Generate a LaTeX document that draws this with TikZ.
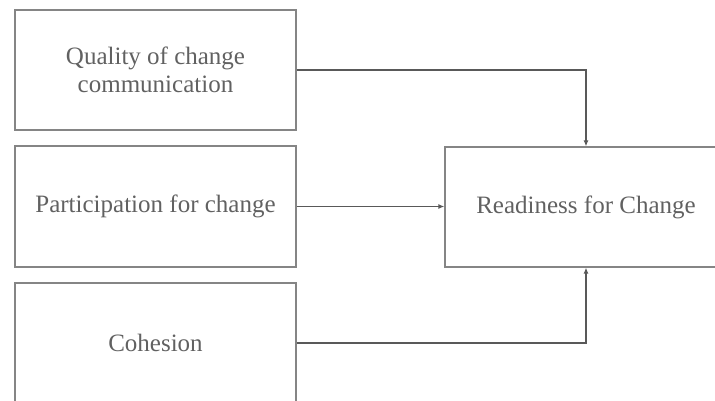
\documentclass[tikz,border=0pt]{standalone}
\usepackage{fontspec}
\setmainfont{Liberation Serif}
\usetikzlibrary{arrows.meta}
\definecolor{boxline}{gray}{0.52}
\definecolor{txt}{gray}{0.38}
\definecolor{conn}{gray}{0.35}
\begin{document}
\begin{tikzpicture}[x=1pt,y=-1pt,
  box/.style={draw=boxline,line width=1.3pt,minimum width=281pt,inner sep=0pt,
    align=center,text=txt,font=\fontsize{25}{28}\selectfont},
  conn/.style={draw=conn,line width=1.1pt,-{Latex[length=6pt,width=5pt]}}]
\useasboundingbox (0,0) rectangle (715,401);
\begin{scope}
\clip (0,0) rectangle (715,401);
\node[box,minimum height=120pt] (q) at (155.5,70) {Quality of change\\communication};
\node[box,minimum height=121pt] (p) at (155.5,206.5) {Participation for change};
\node[box,minimum height=120pt] (c) at (155.5,343) {Cohesion};
\node[box,minimum height=120pt,minimum width=282pt] (r) at (586,207) {Readiness for Change};
\end{scope}
\draw[conn] (q.east) -| (r.north);
\draw[conn] (p.east) -- (p.east -| r.west);
\draw[conn] (c.east) -| (r.south);
\end{tikzpicture}
\end{document}
